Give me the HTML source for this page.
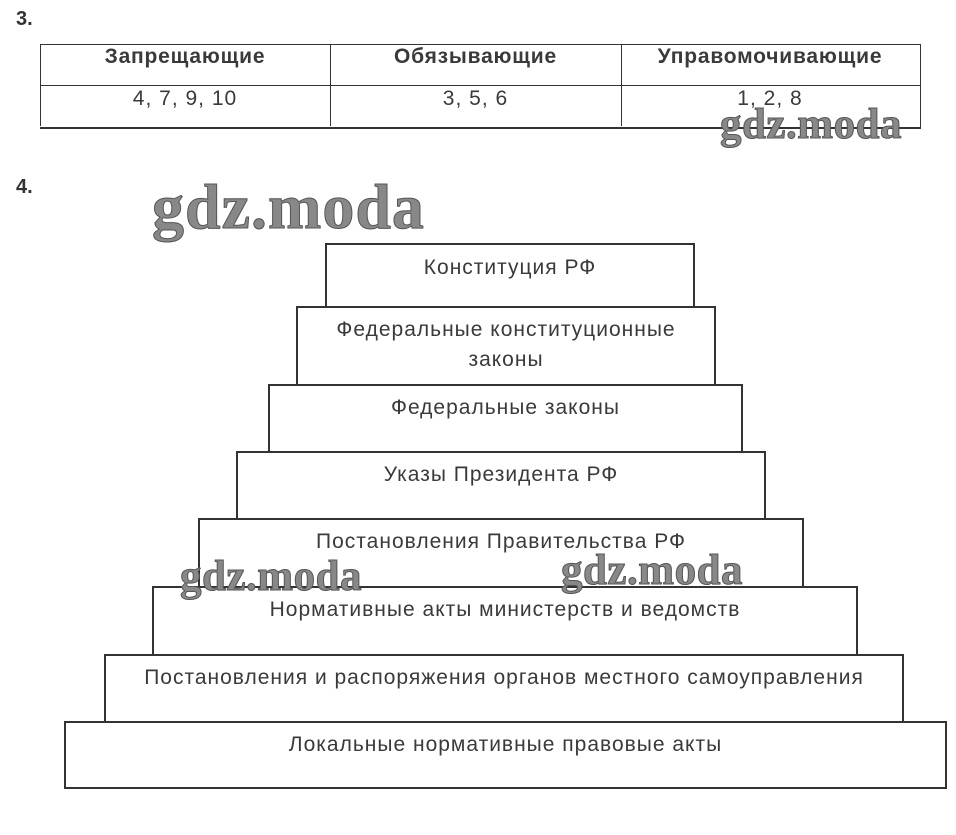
<!DOCTYPE html>
<html><head><meta charset="utf-8"><style>
body{margin:0;width:956px;height:835px;background:#fff;position:relative;overflow:hidden;font-family:"Liberation Sans",sans-serif;color:#3a3a3a}
.n{position:absolute;font-size:20px;font-weight:bold;color:#333}
.b{position:absolute;border:2px solid #333;box-sizing:border-box;background:#fff;text-align:center;font-size:21px;letter-spacing:1px;line-height:30px;padding-top:8px;color:#3a3a3a}
.w{position:absolute;font-family:"Liberation Serif",serif;font-weight:bold;color:#888;-webkit-text-stroke:1px #555;white-space:nowrap}
.h{position:absolute;top:45px;text-align:center;font-size:21px;font-weight:bold;letter-spacing:0.8px}
.v{position:absolute;top:87px;text-align:center;font-size:21px;letter-spacing:1px}
</style></head><body>
<div class="n" style="left:16px;top:8px">3.</div>
<div class="n" style="left:16px;top:176px">4.</div>
<div style="position:absolute;left:40px;top:44px;width:880px;height:82px;border-top:1px solid #333;border-bottom:2px solid #333;border-right:1px solid #333"></div>
<div style="position:absolute;left:40px;top:85px;width:880px;border-top:1px solid #333"></div>
<div style="position:absolute;left:330px;top:44px;height:82px;border-left:1px solid #333"></div>
<div style="position:absolute;left:621px;top:44px;height:82px;border-left:1px solid #333"></div>
<div style="position:absolute;left:40px;top:44px;height:82px;border-left:1px solid #333"></div>
<div class="h" style="left:40px;width:290px">Запрещающие</div>
<div class="h" style="left:330px;width:291px">Обязывающие</div>
<div class="h" style="left:621px;width:298px">Управомочивающие</div>
<div class="v" style="left:40px;width:290px">4, 7, 9, 10</div>
<div class="v" style="left:330px;width:291px">3, 5, 6</div>
<div class="v" style="left:621px;width:298px">1, 2, 8</div>

<div class="b" style="left:325px;top:243px;width:370px;height:65px;padding-top:8px">Конституция РФ</div>
<div class="b" style="left:296px;top:306px;width:420px;height:80px;padding-top:7px">Федеральные конституционные<br>законы</div>
<div class="b" style="left:268px;top:384px;width:475px;height:69px;padding-top:7px">Федеральные законы</div>
<div class="b" style="left:236px;top:451px;width:530px;height:69px;padding-top:7px">Указы Президента РФ</div>
<div class="b" style="left:198px;top:518px;width:606px;height:70px;padding-top:7px">Постановления Правительства РФ</div>
<div class="b" style="left:152px;top:586px;width:706px;height:70px;padding-top:7px">Нормативные акты министерств и ведомств</div>
<div class="b" style="left:104px;top:654px;width:800px;height:69px;padding-top:7px">Постановления и распоряжения органов местного самоуправления</div>
<div class="b" style="left:64px;top:721px;width:883px;height:68px;padding-top:7px">Локальные нормативные правовые акты</div>

<div class="w" style="left:152px;top:170px;font-size:64px;letter-spacing:1px">gdz.moda</div>
<div class="w" style="left:720px;top:100px;font-size:43px;letter-spacing:0.5px">gdz.moda</div>
<div class="w" style="left:180px;top:552px;font-size:43px;letter-spacing:0.5px">gdz.moda</div>
<div class="w" style="left:561px;top:546px;font-size:43px;letter-spacing:0.5px">gdz.moda</div>
</body></html>
